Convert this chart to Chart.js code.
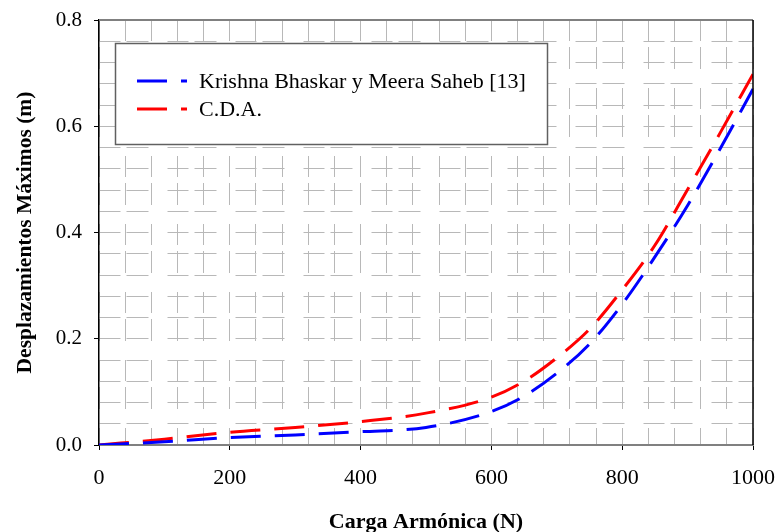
<!DOCTYPE html>
<html lang="es">
  <head>
    <meta charset="UTF-8" />
    <title>Desplazamientos Máximos vs Carga Armónica</title>
    <style>
      html, body { margin: 0; padding: 0; background: #fff; }
      #contenedor { width: 776px; height: 532px; }
    </style>
  </head>
  <body>
    <div id="contenedor">
      <canvas id="grafico" width="776" height="532"></canvas>
    </div>

    <script src="https://cdn.jsdelivr.net/npm/chart.js"></script>
    <script>
      // Datos
      const cargas = [0, 100, 200, 300, 400, 500, 600, 650, 700, 750, 800, 850, 900, 950, 1000];
      const krishna = [0, 0.006, 0.014, 0.019, 0.025, 0.033, 0.063, 0.092, 0.135, 0.19, 0.265, 0.354, 0.451, 0.558, 0.67];
      const cda = [0, 0.011, 0.024, 0.033, 0.044, 0.06, 0.09, 0.12, 0.164, 0.218, 0.292, 0.376, 0.481, 0.588, 0.698];
      const nombres = ['Krishna Bhaskar y Meera Saheb [13]', 'C.D.A.'];

      const fuente = "'Liberation Serif', 'Times New Roman', serif";
      const puntos = ys => cargas.map((x, i) => ({ x: x, y: ys[i] }));
      const esMultiplo = (v, paso) => Math.abs(v / paso - Math.round(v / paso)) < 1e-6;

      // Marco superior y derecho del área de trazado
      const marco = {
        id: 'marco',
        afterDatasetsDraw(chart) {
          const { ctx, chartArea: a } = chart;
          ctx.save();
          ctx.strokeStyle = '#808080';
          ctx.lineWidth = 2;
          ctx.beginPath();
          ctx.moveTo(a.left, a.top);
          ctx.lineTo(a.right, a.top);
          ctx.stroke();
          ctx.strokeStyle = '#000';
          ctx.lineWidth = 1.5;
          ctx.beginPath();
          ctx.moveTo(a.right, a.top);
          ctx.lineTo(a.right, a.bottom);
          ctx.stroke();
          ctx.restore();
        }
      };

      // Leyenda con caja blanca dentro del gráfico
      const leyenda = {
        id: 'leyenda',
        afterDatasetsDraw(chart) {
          const ctx = chart.ctx;
          ctx.save();
          ctx.fillStyle = '#fff';
          ctx.fillRect(115, 43, 433, 102);
          ctx.strokeStyle = '#606060';
          ctx.lineWidth = 1.5;
          ctx.strokeRect(115.5, 43.5, 432, 101);
          chart.data.datasets.forEach((ds, i) => {
            const y = 81 + i * 28;
            ctx.strokeStyle = ds.borderColor;
            ctx.lineWidth = 3;
            ctx.setLineDash(ds.borderDash);
            ctx.beginPath();
            ctx.moveTo(137, y);
            ctx.lineTo(187, y);
            ctx.stroke();
            ctx.setLineDash([]);
            ctx.fillStyle = '#000';
            ctx.font = '22px ' + fuente;
            ctx.textBaseline = 'middle';
            ctx.fillText(ds.label, 199, y + 1);
          });
          ctx.restore();
        }
      };

      const ctx = document.getElementById('grafico').getContext('2d');
      new Chart(ctx, {
        type: 'line',
        data: {
          datasets: [
            {
              label: nombres[0],
              data: puntos(krishna),
              borderColor: '#0000ff',
              borderWidth: 3,
              borderDash: [30, 14],
              pointRadius: 0,
              fill: false,
              cubicInterpolationMode: 'monotone'
            },
            {
              label: nombres[1],
              data: puntos(cda),
              borderColor: '#ff0000',
              borderWidth: 3,
              borderDash: [30, 14],
              pointRadius: 0,
              fill: false,
              cubicInterpolationMode: 'monotone'
            }
          ]
        },
        options: {
          responsive: false,
          animation: false,
          devicePixelRatio: 1,
          layout: { padding: { left: 0, right: 23, top: 20, bottom: 0 } },
          plugins: {
            legend: { display: false },
            tooltip: { enabled: false }
          },
          scales: {
            x: {
              type: 'linear',
              min: 0,
              max: 1000,
              afterFit: s => {
                s.height = 87;
                s.paddingLeft = 0;
                s.paddingRight = 0;
              },
              ticks: {
                stepSize: 40,
                autoSkip: false,
                maxRotation: 0,
                padding: 15,
                color: '#000',
                font: { family: fuente, size: 22 },
                callback: v => (esMultiplo(v, 200) ? String(v) : '')
              },
              grid: {
                color: '#b8b8b8',
                lineWidth: 1,
                tickLength: 5,
                tickColor: c => (esMultiplo(c.tick.value, 200) ? '#000' : 'rgba(0,0,0,0)')
              },
              border: { color: '#808080', width: 2, dash: [21, 6, 22, 19] },
              title: {
                display: true,
                text: 'Carga Armónica (N)',
                color: '#000',
                font: { family: fuente, size: 22, weight: 'bold', lineHeight: 1 },
                padding: { top: 0, bottom: -1 }
              }
            },
            y: {
              min: 0,
              max: 0.8,
              afterFit: s => {
                s.width = 99;
                s.paddingTop = 0;
                s.paddingBottom = 0;
              },
              ticks: {
                stepSize: 0.04,
                autoSkip: false,
                padding: 12,
                color: '#000',
                font: { family: fuente, size: 21 },
                callback: v => (esMultiplo(v, 0.2) ? v.toFixed(1) : '')
              },
              grid: {
                color: '#b8b8b8',
                lineWidth: 1,
                tickLength: 5,
                tickColor: c => (esMultiplo(c.tick.value, 0.2) ? '#000' : 'rgba(0,0,0,0)')
              },
              border: { color: '#000', width: 1.5, dash: [21, 6, 22, 19] },
              title: {
                display: true,
                text: 'Desplazamientos Máximos (m)',
                color: '#000',
                font: { family: fuente, size: 21.5, weight: 'bold' },
                padding: { top: 13, bottom: 0 }
              }
            }
          }
        },
        plugins: [marco, leyenda]
      });
    </script>
  </body>
</html>
